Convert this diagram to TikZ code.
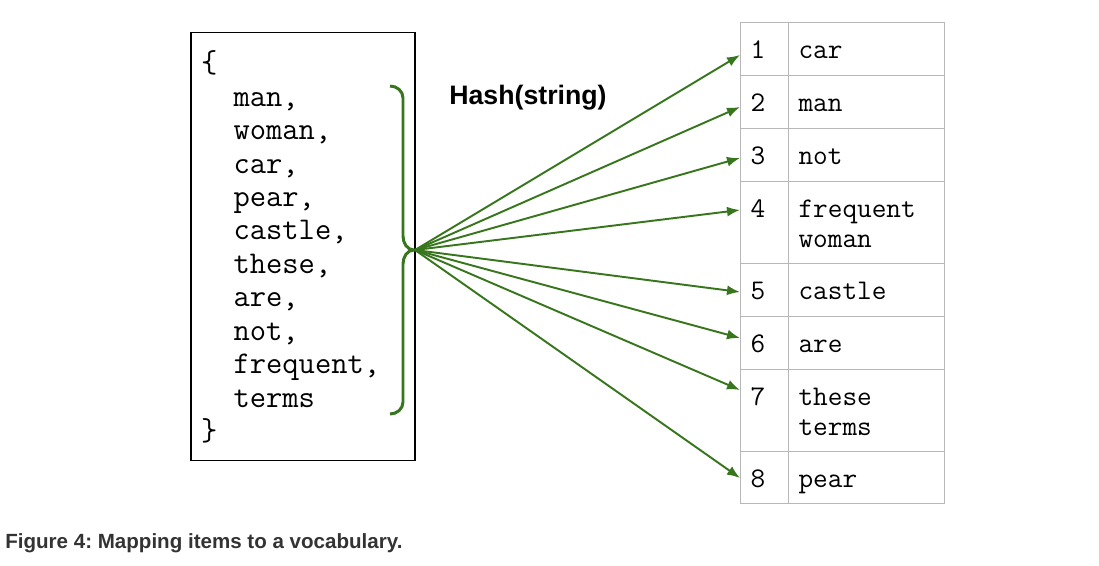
\documentclass[tikz,border=0pt]{standalone}
\usepackage{fontspec}
\setmainfont{Liberation Sans}
\usetikzlibrary{positioning,arrows.meta}
\definecolor{hashgreen}{HTML}{38761D}
\definecolor{gridgray}{HTML}{B7B7B7}
\definecolor{captiongray}{HTML}{333333}
\tikzset{
  maparrow/.style={-{Latex[length=2.6mm,width=2mm]}, draw=hashgreen, line width=1.1pt},
  bracepath/.style={draw=hashgreen, line width=1.7pt},
  listbox/.style={draw, line width=0.6pt, text width=4.08cm, inner xsep=0.2cm, minimum height=8.58cm, align=left, font=\ttfamily\fontsize{18}{19.05}\selectfont, execute at begin node={\rule{0pt}{0.61cm}}, execute at end node=\strut},
  cell/.style={draw=gridgray, line width=0.6pt, anchor=north west, align=left, inner xsep=0.2cm, inner ysep=0pt, font=\ttfamily\fontsize{16.2}{17}\selectfont, execute at begin node={\rule{0pt}{0.57cm}}, execute at end node=\strut},
  idxcell/.style={cell, text width=0.56cm},
  wordcell/.style={cell, text width=2.72cm},
  fnlabel/.style={font=\bfseries\fontsize{15.2}{18}\selectfont},
  caplabel/.style={font=\bfseries\fontsize{11.7}{14}\selectfont, text=captiongray, anchor=west, inner sep=0pt}
}

\begin{document}
\begin{tikzpicture}[>=Latex, x=0.02cm, y=-0.02cm]
  \useasboundingbox (0,0) rectangle (1099,565);

  % the input terms
  \node[listbox] (terms) at (303,246.5) {\{\\
    \phantom{xx}man,\\
    \phantom{xx}woman,\\
    \phantom{xx}car,\\
    \phantom{xx}pear,\\
    \phantom{xx}castle,\\
    \phantom{xx}these,\\
    \phantom{xx}are,\\
    \phantom{xx}not,\\
    \phantom{xx}frequent,\\
    \phantom{xx}terms\\
    \}};
  \draw[bracepath] (390,86) to[out=0,in=90] (403,98) -- (403,236)
    to[out=-90,in=180] (414,250) to[out=180,in=90] (403,264) -- (403,402)
    to[out=-90,in=0] (390,414);
  \coordinate (hub) at (415,250);
  \node[fnlabel] (hashfn) at (528,98) {Hash(string)};

  % the vocabulary table
  \node[idxcell, minimum height=1.06cm] (idx1) at (740,22) {1};
  \node[wordcell, minimum height=1.06cm] (word1) at (788,22) {car};
  \node[idxcell, minimum height=1.06cm] (idx2) at (740,75) {2};
  \node[wordcell, minimum height=1.06cm] (word2) at (788,75) {man};
  \node[idxcell, minimum height=1.06cm] (idx3) at (740,128) {3};
  \node[wordcell, minimum height=1.06cm] (word3) at (788,128) {not};
  \node[idxcell, minimum height=1.64cm] (idx4) at (740,181) {4\\\strut};
  \node[wordcell, minimum height=1.64cm] (word4) at (788,181) {frequent\\woman};
  \node[idxcell, minimum height=1.06cm] (idx5) at (740,263) {5};
  \node[wordcell, minimum height=1.06cm] (word5) at (788,263) {castle};
  \node[idxcell, minimum height=1.06cm] (idx6) at (740,316) {6};
  \node[wordcell, minimum height=1.06cm] (word6) at (788,316) {are};
  \node[idxcell, minimum height=1.64cm] (idx7) at (740,369) {7\\\strut};
  \node[wordcell, minimum height=1.64cm] (word7) at (788,369) {these\\terms};
  \node[idxcell, minimum height=1.04cm] (idx8) at (740,451) {8};
  \node[wordcell, minimum height=1.04cm] (word8) at (788,451) {pear};

  \draw[maparrow] (hub) -- ([yshift=-0.66cm]idx1.north west);
  \draw[maparrow] (hub) -- ([yshift=-0.64cm]idx2.north west);
  \draw[maparrow] (hub) -- ([yshift=-0.60cm]idx3.north west);
  \draw[maparrow] (hub) -- ([yshift=-0.58cm]idx4.north west);
  \draw[maparrow] (hub) -- ([yshift=-0.58cm]idx5.north west);
  \draw[maparrow] (hub) -- ([yshift=-0.44cm]idx6.north west);
  \draw[maparrow] (hub) -- ([yshift=-0.42cm]idx7.north west);
  \draw[maparrow] (hub) -- ([yshift=-0.54cm]idx8.north west);

  \node[caplabel] (caption) at (5,543) {\frenchspacing Figure 4: Mapping items to a vocabulary.};
\end{tikzpicture}
\end{document}
